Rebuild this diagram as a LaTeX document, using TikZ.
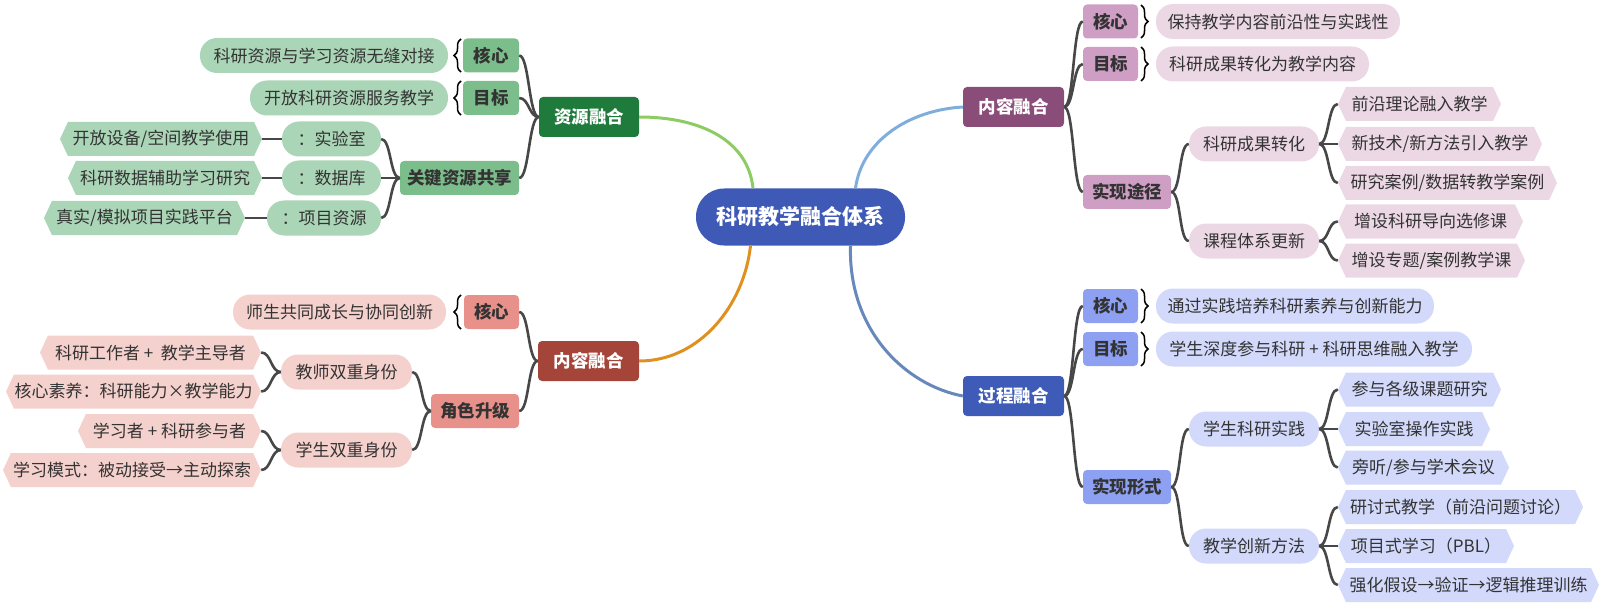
\documentclass[tikz,border=0pt]{standalone}
\usepackage{fontspec}
\setmainfont{Noto Sans CJK SC}
\usetikzlibrary{shapes.symbols,decorations.pathreplacing}
\definecolor{txt}{HTML}{333333}
\definecolor{lk}{HTML}{474747}
\definecolor{CC}{HTML}{3F5AB6}
\definecolor{G0}{HTML}{1E7B3B}
\definecolor{G1}{HTML}{7CBE8B}
\definecolor{G2}{HTML}{AAD5B6}
\definecolor{R0}{HTML}{A5453A}
\definecolor{R1}{HTML}{E8918B}
\definecolor{R2}{HTML}{F5D1CD}
\definecolor{P0}{HTML}{8A4D79}
\definecolor{P1}{HTML}{CE9EC4}
\definecolor{P2}{HTML}{ECD8E5}
\definecolor{B0}{HTML}{3E5BB7}
\definecolor{B1}{HTML}{8EA0F2}
\definecolor{B2}{HTML}{D2D9FB}
\definecolor{mgreen}{HTML}{8DCB63}
\definecolor{morange}{HTML}{E0901F}
\definecolor{mlblue}{HTML}{7FAEDC}
\definecolor{msblue}{HTML}{6688BB}
\begin{document}
\begin{tikzpicture}[x=1pt,y=-1pt,
  base/.style={inner sep=0pt, font=\fontsize{17}{20}\selectfont, text=txt},
  trunk/.style={base, rounded corners=4pt, minimum height=40pt, font=\fontsize{17.5}{20}\selectfont\bfseries, text=white},
  lab/.style={base, rounded corners=4pt, minimum height=34pt, font=\fontsize{17.5}{20}\selectfont\bfseries},
  pill/.style={base, rounded corners=17pt, minimum height=35pt},
  hex/.style={base, signal, signal to=west and east, signal pointer angle=130, minimum height=34pt},
  conn/.style={draw=lk, line width=2.6pt},
  brc/.style={decorate, decoration={brace, amplitude=7pt}, line width=1.5pt, draw=black},
  main/.style={line width=3pt},
]
\useasboundingbox (0,0) rectangle (1600,604);

% centre
\node[base, fill=CC, rounded corners=28pt, minimum width=209pt, minimum height=57pt,
  font=\fontsize{21}{24}\selectfont\bfseries, text=white] (c) at (800.5,217) {科研教学融合体系};

% green branch
\node[trunk, fill=G0, minimum width=100pt] (g0) at (589,117) {资源融合};
\node[lab, fill=G1, minimum width=56pt] (g1) at (491,55.5) {核心};
\node[pill, fill=G2, minimum width=248pt] (g1l) at (324,55.5) {科研资源与学习资源无缝对接};
\node[lab, fill=G1, minimum width=56pt] (g2) at (491,98) {目标};
\node[pill, fill=G2, minimum width=198pt] (g2l) at (349,98) {开放科研资源服务教学};
\node[lab, fill=G1, minimum width=119pt] (g3) at (459.5,178) {关键资源共享};
\node[pill, fill=G2, minimum width=99pt] (g31) at (331.5,139) {：实验室};
\node[hex, fill=G2, minimum width=202pt] (g31l) at (161,139) {开放设备/空间教学使用};
\node[pill, fill=G2, minimum width=99pt] (g32) at (331.5,178) {：数据库};
\node[hex, fill=G2, minimum width=194pt] (g32l) at (165,178) {科研数据辅助学习研究};
\node[pill, fill=G2, minimum width=114pt] (g33) at (324,218) {：项目资源};
\node[hex, fill=G2, minimum width=201pt] (g33l) at (144.5,218) {真实/模拟项目实践平台};

% red branch
\node[trunk, fill=R0, minimum width=101pt] (r0) at (588.5,361) {内容融合};
\node[lab, fill=R1, minimum width=55pt] (r1) at (491.5,312) {核心};
\node[pill, fill=R2, minimum width=213pt] (r1l) at (339.5,312) {师生共同成长与协同创新};
\node[lab, fill=R1, minimum width=88pt] (r2) at (475,411) {角色升级};
\node[pill, fill=R2, minimum width=131pt] (r21) at (346.5,372) {教师双重身份};
\node[hex, fill=R2, minimum width=221pt] (r21a) at (150.5,352.5) {科研工作者 +\ \ 教学主导者};
\node[hex, fill=R2, minimum width=255pt] (r21b) at (133.5,391.5) {核心素养：科研能力×教学能力};
\node[pill, fill=R2, minimum width=131pt] (r22) at (346.5,450) {学生双重身份};
\node[hex, fill=R2, minimum width=183pt] (r22a) at (169.5,431) {学习者 + 科研参与者};
\node[hex, fill=R2, minimum width=258pt] (r22b) at (132,470) {学习模式：被动接受→主动探索};

% purple branch
\node[trunk, fill=P0, minimum width=101pt] (p0) at (1013.5,107) {内容融合};
\node[lab, fill=P1, minimum width=55pt] (p1) at (1110.5,21.5) {核心};
\node[pill, fill=P2, minimum width=244pt] (p1l) at (1278,21.5) {保持教学内容前沿性与实践性};
\node[lab, fill=P1, minimum width=55pt] (p2) at (1110.5,64) {目标};
\node[pill, fill=P2, minimum width=213pt] (p2l) at (1262.5,64) {科研成果转化为教学内容};
\node[lab, fill=P1, minimum width=88pt] (p3) at (1127,192) {实现途径};
\node[pill, fill=P2, minimum width=130pt] (p31) at (1254,144) {科研成果转化};
\node[hex, fill=P2, minimum width=163pt] (p31a) at (1419.5,104) {前沿理论融入教学};
\node[hex, fill=P2, minimum width=204pt] (p31b) at (1440,144) {新技术/新方法引入教学};
\node[hex, fill=P2, minimum width=219pt] (p31c) at (1447.5,183) {研究案例/数据转教学案例};
\node[pill, fill=P2, minimum width=130pt] (p32) at (1254,241) {课程体系更新};
\node[hex, fill=P2, minimum width=185pt] (p32a) at (1430.5,221.5) {增设科研导向选修课};
\node[hex, fill=P2, minimum width=187pt] (p32b) at (1431.5,260.5) {增设专题/案例教学课};

% blue branch
\node[trunk, fill=B0, minimum width=101pt] (b0) at (1013.5,396) {过程融合};
\node[lab, fill=B1, minimum width=55pt] (b1) at (1110.5,306) {核心};
\node[pill, fill=B2, minimum width=278pt] (b1l) at (1295,306) {通过实践培养科研素养与创新能力};
\node[lab, fill=B1, minimum width=55pt] (b2) at (1110.5,349) {目标};
\node[pill, fill=B2, minimum width=316pt] (b2l) at (1314,349) {学生深度参与科研 + 科研思维融入教学};
\node[lab, fill=B1, minimum width=88pt] (b3) at (1127,487) {实现形式};
\node[pill, fill=B2, minimum width=130pt] (b31) at (1254,429) {学生科研实践};
\node[hex, fill=B2, minimum width=163pt] (b31a) at (1419.5,389.5) {参与各级课题研究};
\node[hex, fill=B2, minimum width=152pt] (b31b) at (1414,429) {实验室操作实践};
\node[hex, fill=B2, minimum width=171pt] (b31c) at (1423.5,467.5) {旁听/参与学术会议};
\node[pill, fill=B2, minimum width=130pt] (b32) at (1254,546) {教学创新方法};
\node[hex, fill=B2, minimum width=245pt] (b32a) at (1460.5,507) {研讨式教学（前沿问题讨论）};
\node[hex, fill=B2, minimum width=176pt] (b32b) at (1426,546) {项目式学习（PBL）};
\node[hex, fill=B2, minimum width=261pt] (b32c) at (1468.5,585) {强化假设→验证→逻辑推理训练};

% main curves
\draw[main, draw=mgreen] ([xshift=-47.5pt]c.north) .. controls (748,140) and (700,117) .. (g0.east);
\draw[main, draw=morange] ([xshift=-50pt]c.south) .. controls (744,305) and (700,361) .. (r0.east);
\draw[main, draw=mlblue] ([xshift=55pt]c.north) .. controls (862,140) and (910,110) .. (p0.west);
\draw[main, draw=msblue] ([xshift=50pt]c.south) .. controls (848,330) and (905,385) .. (b0.west);

% left connectors
\foreach \p/\ch in {g0/g1,g0/g2,g0/g3,g3/g31,g3/g32,g3/g33,r0/r1,r0/r2,r2/r21,r2/r22,r21/r21a,r21/r21b,r22/r22a,r22/r22b}
  \draw[conn] (\p.west) .. controls +(-10,0) and +(10,0) .. (\ch.east);
\draw[conn] (g31.west) -- (g31l.east);
\draw[conn] (g32.west) -- (g32l.east);
\draw[conn] (g33.west) -- (g33l.east);

% right connectors
\foreach \p/\ch in {p0/p1,p0/p2,p0/p3,p3/p31,p3/p32,p31/p31a,p31/p31b,p31/p31c,p32/p32a,p32/p32b,
  b0/b1,b0/b2,b0/b3,b3/b31,b3/b32,b31/b31a,b31/b31b,b31/b31c,b32/b32a,b32/b32b,b32/b32c}
  \draw[conn] (\p.east) .. controls +(10,0) and +(-10,0) .. (\ch.west);

% braces
\coordinate (bg1a) at (461,72); \coordinate (bg1b) at (461,39);
\coordinate (bg2a) at (461,115); \coordinate (bg2b) at (461,81);
\coordinate (br1a) at (461,329); \coordinate (br1b) at (461,295);
\coordinate (bp1a) at (1141,5); \coordinate (bp1b) at (1141,38);
\coordinate (bp2a) at (1141,47); \coordinate (bp2b) at (1141,81);
\coordinate (bb1a) at (1141,289); \coordinate (bb1b) at (1141,323);
\coordinate (bb2a) at (1141,332); \coordinate (bb2b) at (1141,366);
\foreach \n in {bg1,bg2,br1,bp1,bp2,bb1,bb2}
  \draw[brc] (\n a) -- (\n b);
\end{tikzpicture}
\end{document}
